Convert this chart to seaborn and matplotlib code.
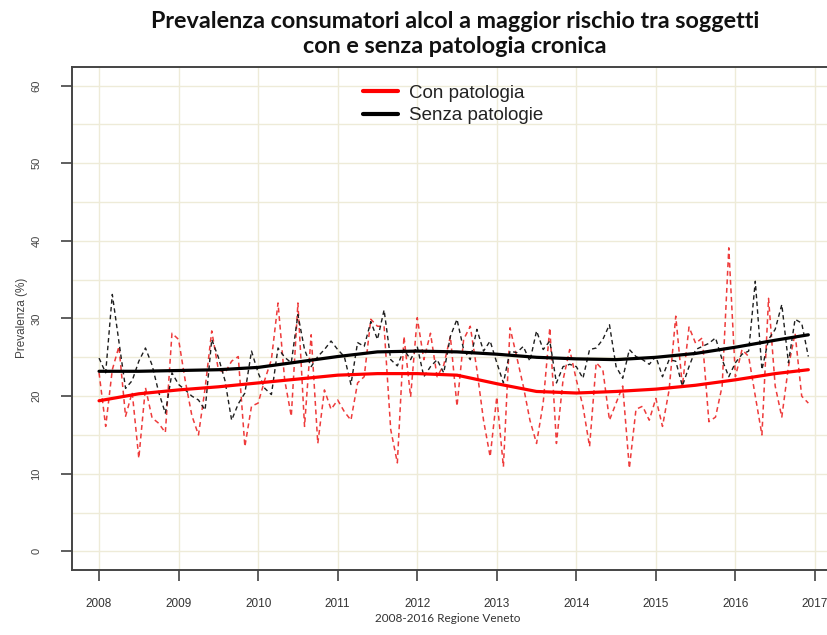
import numpy as np
import pandas as pd
import matplotlib
matplotlib.use("Agg")
import matplotlib.pyplot as plt
from matplotlib.lines import Line2D
import seaborn as sns

# Monthly prevalence (%), Jan 2008 - Dec 2016
con_patologia = [
    23.0, 16.1, 23.4, 26.4, 17.4, 20.5, 12.0, 21.1, 17.2, 16.5, 15.3, 28.1,
    27.3, 22.0, 17.5, 15.0, 21.0, 28.4, 23.4, 23.0, 24.5, 25.1, 13.5, 18.7,
    19.1, 22.1, 24.7, 32.0, 22.1, 17.4, 32.0, 16.1, 27.9, 13.9, 20.8, 18.3,
    19.5, 18.0, 16.9, 21.7, 22.5, 29.9, 29.0, 29.0, 15.7, 11.4, 27.7, 19.9,
    30.1, 24.7, 28.1, 22.5, 24.0, 27.7, 18.7, 27.3, 29.0, 23.4, 16.9, 12.2,
    19.9, 10.9, 28.8, 25.1, 21.3, 16.9, 13.9, 19.1, 28.8, 13.9, 22.1, 26.0,
    22.1, 18.7, 13.5, 24.3, 23.4, 16.9, 19.1, 21.3, 10.7, 18.3, 18.7, 16.9,
    19.7, 16.1, 20.8, 30.3, 21.3, 28.9, 26.8, 27.5, 16.7, 17.3, 21.3, 39.1,
    22.5, 26.0, 25.1, 20.0, 15.0, 32.6, 21.3, 17.3, 23.8, 28.1, 20.0, 19.1,
]
senza_patologie = [
    24.9, 23.0, 33.1, 27.0, 21.0, 22.0, 24.5, 26.2, 24.0, 20.5, 17.8, 23.0,
    21.5, 20.8, 20.0, 19.5, 18.2, 27.3, 25.0, 22.0, 16.9, 19.0, 20.4, 25.8,
    23.0, 21.0, 20.2, 26.2, 25.0, 24.3, 30.5, 26.0, 23.8, 25.1, 26.0, 27.1,
    26.0, 25.1, 21.5, 26.9, 26.4, 29.6, 27.3, 31.1, 24.7, 23.9, 26.0, 24.7,
    26.4, 22.5, 23.8, 24.7, 23.0, 27.7, 29.9, 26.0, 24.7, 28.6, 25.8, 27.1,
    24.3, 21.7, 25.8, 25.6, 26.4, 24.5, 28.4, 26.0, 27.1, 21.7, 23.8, 24.1,
    23.8, 22.3, 26.0, 26.2, 27.3, 29.2, 23.8, 22.3, 26.0, 25.1, 24.7, 24.1,
    25.1, 22.5, 24.7, 24.5, 21.3, 23.8, 26.0, 26.4, 26.8, 27.5, 24.7, 22.5,
    24.3, 25.4, 25.8, 34.8, 23.4, 27.3, 28.6, 31.8, 24.3, 29.9, 29.4, 25.1,
]

# smoothed trend, read every six months (month index from Jan 2008)
trend_month = [0, 6, 12, 18, 24, 30, 36, 42, 48, 54, 60, 66, 72, 78, 84, 90, 96, 102, 107]
trend_con = [19.4, 20.3, 20.8, 21.2, 21.7, 22.2, 22.7, 22.9, 22.9, 22.7,
             21.6, 20.6, 20.4, 20.6, 20.9, 21.4, 22.1, 22.9, 23.4]
trend_senza = [23.2, 23.2, 23.3, 23.4, 23.7, 24.4, 25.1, 25.7, 25.8, 25.7,
               25.4, 25.0, 24.8, 24.7, 25.0, 25.5, 26.3, 27.2, 27.9]

year_ticks = list(range(2008, 2018))
y_ticks = [0, 10, 20, 30, 40, 50, 60]
legend_labels = ["Con patologia", "Senza patologie"]

title = "Prevalenza consumatori alcol a maggior rischio tra soggetti\ncon e senza patologia cronica"

sns.set_style("white")
plt.rcParams["font.family"] = ["Liberation Sans", "DejaVu Sans"]

months = pd.date_range("2008-01-01", periods=len(con_patologia), freq="MS")
t = np.asarray(months.year + (months.month - 1) / 12.0)

df = pd.DataFrame({"t": t, "con": con_patologia, "senza": senza_patologie})
tr = pd.DataFrame({"t": t[trend_month], "con": trend_con, "senza": trend_senza})

fig = plt.figure(figsize=(8.27, 6.35), dpi=100)
ax = fig.add_axes([72 / 827, (635 - 570) / 635, (842 - 72) / 827, (570 - 67) / 635])

# grid
for yv in range(0, 65, 5):
    ax.axhline(yv, color="#eeebd8", lw=1.0, zorder=0)
for xv in year_ticks:
    ax.axvline(xv, color="#eeebd8", lw=1.0, zorder=0)

dash = (0, (3.2, 2.4))
sns.lineplot(data=df, x="t", y="con", ax=ax, color="#ee3b3b", lw=1.1, linestyle=dash, zorder=2)
sns.lineplot(data=df, x="t", y="senza", ax=ax, color="#1e1e1e", lw=1.0, linestyle=dash, zorder=3)
sns.lineplot(data=tr, x="t", y="con", ax=ax, color="#ff0000", lw=2.3, zorder=4)
sns.lineplot(data=tr, x="t", y="senza", ax=ax, color="#000000", lw=2.3, zorder=5)

ax.set_xlim(2007.66, 2017.34)
ax.set_ylim(-2.4, 62.4)
ax.set_xticks(year_ticks)
ax.set_xticklabels([str(y) for y in year_ticks])
ax.set_yticks(y_ticks)
ax.set_yticklabels([str(v) for v in y_ticks], rotation=90, va="center")
ax.tick_params(axis="x", length=8, width=1.1, color="#333333", labelsize=8.5,
               labelcolor="#333333", pad=12, bottom=True)
ax.tick_params(axis="y", length=8, width=1.1, color="#333333", labelsize=8,
               labelcolor="#444444", pad=14, left=True)
for s in ax.spines.values():
    s.set_color("#444444")
    s.set_linewidth(1.4)

ax.set_xlabel("")
ax.set_ylabel("")
fig.text(22 / 827, 1 - 318 / 635, "Prevalenza (%)", rotation=90, ha="center", va="center",
         fontsize=8.5, color="#444444")
fig.text(448 / 827, 1 - 619 / 635, "2008-2016 Regione Veneto", ha="center", va="center",
         fontsize=8.5, color="#333333", family=["Lato", "DejaVu Sans"])
fig.text(455 / 827, 1 - 34 / 635, title, ha="center", va="center", fontsize=16.8,
         fontweight="bold", color="#111111", linespacing=1.22, family=["Lato", "DejaVu Sans"])

handles = [Line2D([], [], color="#ff0000", lw=3), Line2D([], [], color="#000000", lw=3)]
ax.legend(handles, legend_labels, loc="upper left", frameon=False,
          bbox_to_anchor=(355 / 827, 1 - 77 / 635), bbox_transform=fig.transFigure,
          fontsize=13.5, handlelength=1.9, handletextpad=0.6, labelspacing=0.3,
          labelcolor="#222222", borderaxespad=0)

fig.savefig("out.png", dpi=100)
